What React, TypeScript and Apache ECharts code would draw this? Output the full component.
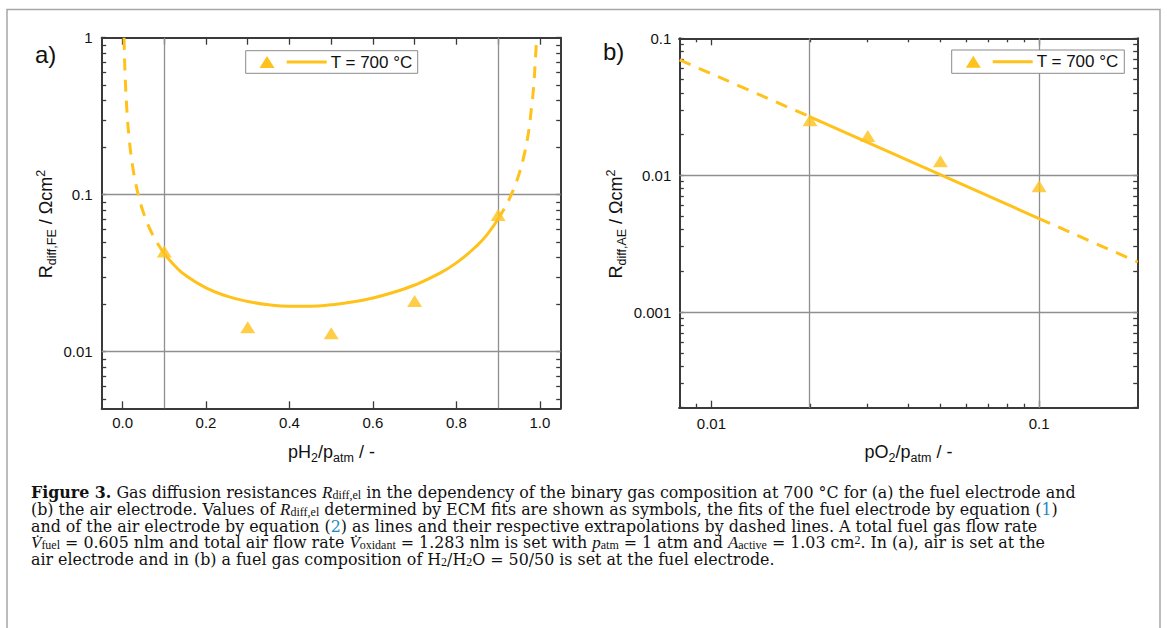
import React, { useEffect, useRef } from "react";
import * as echarts from "echarts";

// ---------------- data ----------------
// Panel a: fuel electrode, x = pH2/patm, y = R_diff,FE (Ωcm²)
const pH2Measured = [0.1, 0.3, 0.5, 0.7, 0.9];
const rFEMeasured = [0.0435, 0.0143, 0.0131, 0.021, 0.0743];

const fitFE_x = [0.1, 0.125, 0.15, 0.2, 0.25, 0.3, 0.35, 0.4, 0.45, 0.5, 0.55, 0.6, 0.65, 0.7, 0.75, 0.8, 0.85, 0.875, 0.9];
const fitFE_r = [0.042, 0.0353, 0.0308, 0.0255, 0.0226, 0.0209, 0.0199, 0.0195, 0.0195, 0.0199, 0.0207, 0.022, 0.0239, 0.0266, 0.0306, 0.0368, 0.0476, 0.0563, 0.07];

const extraFELeft_x = [0.00355, 0.004, 0.005, 0.006, 0.008, 0.01, 0.012, 0.015, 0.02, 0.025, 0.03, 0.04, 0.05, 0.06, 0.07, 0.08, 0.09, 0.1];
const extraFELeft_r = [1.0, 0.881, 0.706, 0.59, 0.444, 0.357, 0.298, 0.24, 0.1816, 0.1467, 0.1234, 0.0943, 0.0769, 0.0653, 0.057, 0.0509, 0.0461, 0.042];

const extraFERight_x = [0.9, 0.91, 0.92, 0.93, 0.94, 0.95, 0.96, 0.97, 0.975, 0.98, 0.985, 0.99, 0.9925];
const extraFERight_r = [0.07, 0.0775, 0.0865, 0.098, 0.1135, 0.135, 0.168, 0.225, 0.275, 0.36, 0.48, 0.78, 1.0];

// Panel b: air electrode, x = pO2/patm, y = R_diff,AE (Ωcm²)
const pO2Measured = [0.02, 0.03, 0.05, 0.1];
const rAEMeasured = [0.0252, 0.0193, 0.01265, 0.0083];

const fitAE_x = [0.02, 0.1];
const fitAE_r = [0.0267, 0.00482];
const extraAELeft_x = [0.008, 0.02];
const extraAELeft_r = [0.0695, 0.0267];
const extraAERight_x = [0.1, 0.2];
const extraAERight_r = [0.00482, 0.00232];

// Ticks and labels
const xTicksA = [0, 0.2, 0.4, 0.6, 0.8, 1.0];
const xTickLabelsA = ["0.0", "0.2", "0.4", "0.6", "0.8", "1.0"];
const xTopTicksA = [0, 0.1, 0.2, 0.3, 0.4, 0.5, 0.6, 0.7, 0.8, 0.9, 1.0];
const yTicksA = [0.01, 0.1, 1];
const yTickLabelsA = ["0.01", "0.1", "1"];
const yMinorA = [0.005, 0.006, 0.007, 0.008, 0.009, 0.01, 0.02, 0.03, 0.04, 0.05, 0.06, 0.07, 0.08, 0.09, 0.1, 0.2, 0.3, 0.4, 0.5, 0.6, 0.7, 0.8, 0.9, 1];
const gridXA = [0.1, 0.9];
const gridYA = [0.1, 0.01];

const xTicksB = [0.01, 0.1];
const xTickLabelsB = ["0.01", "0.1"];
const xMinorB = [0.009, 0.02, 0.03, 0.04, 0.05, 0.06, 0.07, 0.08, 0.09];
const yTicksB = [0.001, 0.01, 0.1];
const yTickLabelsB = ["0.001", "0.01", "0.1"];
const yMinorB = [0.0002, 0.0003, 0.0004, 0.0005, 0.0006, 0.0007, 0.0008, 0.0009, 0.001, 0.002, 0.003, 0.004, 0.005, 0.006, 0.007, 0.008, 0.009, 0.01, 0.02, 0.03, 0.04, 0.05, 0.06, 0.07, 0.08, 0.09, 0.1];
const gridXB = [0.02, 0.1];
const gridYB = [0.01, 0.001];

const legendLabel = "T = 700 °C";

// ---------------- styling ----------------
const GOLD = "#FFC21A";
const AXIS_COLOR = "#3a3a3a";
const GRID_COLOR = "#8f8f8f";
const SANS = "'Liberation Sans', Arial, Helvetica, sans-serif";
const SERIF = "'DejaVu Serif', 'Liberation Serif', serif";
const SERIF2 = "'Liberation Serif', 'Times New Roman', serif";
const lg = Math.log10;

const pickLabel = (vals: number[], labels: string[], logScale: boolean) => (v: number) => {
  let best = 0;
  let bd = Infinity;
  vals.forEach((t, i) => {
    const d = Math.abs((logScale ? lg(t) : t) - v);
    if (d < bd) {
      bd = d;
      best = i;
    }
  });
  return labels[best];
};

function mkAxis(
  gridIndex: number,
  position: string,
  min: number,
  max: number,
  ticks: number[],
  tickLen: number,
  label?: { vals: number[]; labels: string[]; margin: number; log: boolean }
) {
  return {
    type: "value",
    gridIndex,
    position,
    min,
    max,
    silent: true,
    axisLine: { show: true, onZero: false, lineStyle: { color: AXIS_COLOR, width: 2 } },
    splitLine: { show: false },
    axisTick: {
      show: true,
      inside: true,
      length: tickLen,
      customValues: ticks,
      lineStyle: { color: AXIS_COLOR, width: 1.3 },
    },
    axisLabel: label
      ? {
          show: true,
          customValues: label.log ? label.vals.map(lg) : label.vals,
          formatter: pickLabel(label.vals, label.labels, label.log),
          margin: label.margin,
          fontFamily: SANS,
          fontSize: 15,
          color: "#111",
        }
      : { show: false },
  };
}

const lineSeries = (xi: number, yi: number, data: number[][], dashed: boolean) => ({
  type: "line",
  xAxisIndex: xi,
  yAxisIndex: yi,
  data,
  symbol: "none",
  showSymbol: false,
  smooth: 0.5,
  silent: true,
  z: 3,
  lineStyle: { color: GOLD, width: 3, type: dashed ? [12, 9] : "solid", cap: "butt" },
});

const scatterSeries = (xi: number, yi: number, data: number[][], gx: number[], gy: number[]) => ({
  type: "scatter",
  xAxisIndex: xi,
  yAxisIndex: yi,
  data,
  symbol: "triangle",
  symbolSize: [15, 12],
  itemStyle: { color: GOLD },
  silent: true,
  z: 4,
  markLine: {
    silent: true,
    z: 1,
    symbol: ["none", "none"],
    label: { show: false },
    emphasis: { disabled: true },
    lineStyle: { color: GRID_COLOR, width: 1.3, type: "solid" },
    data: [...gx.map((v) => ({ xAxis: v })), ...gy.map((v) => ({ yAxis: v }))],
  },
});

const zipLin = (xs: number[], ys: number[]) => xs.map((x, i) => [x, lg(ys[i])]);
const zipLog = (xs: number[], ys: number[]) => xs.map((x, i) => [lg(x), lg(ys[i])]);

// rich text styles
const titleRich = {
  n: { fontSize: 18, fontFamily: SANS, lineHeight: 24, fill: "#111" },
  s: { fontSize: 12.5, fontFamily: SANS, lineHeight: 12, verticalAlign: "bottom", fill: "#111" },
  p: { fontSize: 12.5, fontFamily: SANS, lineHeight: 12, verticalAlign: "top", fill: "#111" },
};

const CAP_FS = 15.85;
const CAP_LH = 16.7;
const capRich = {
  t: { fontSize: CAP_FS, fontFamily: SERIF, lineHeight: CAP_LH, fill: "#111" },
  b: { fontSize: CAP_FS, fontFamily: SERIF, fontWeight: "bold", lineHeight: CAP_LH, fill: "#111" },
  i: { fontSize: 17, fontFamily: SERIF2, fontStyle: "italic", lineHeight: CAP_LH, fill: "#111" },
  l: { fontSize: CAP_FS, fontFamily: SERIF, lineHeight: CAP_LH, fill: "#1f8ac0" },
  s: { fontSize: 12, fontFamily: SERIF2, lineHeight: 6.5, verticalAlign: "bottom", fill: "#111" },
  p: { fontSize: 12, fontFamily: SERIF2, lineHeight: 9, verticalAlign: "top", fill: "#111" },
};

const captionLines = [
  "{b|Figure 3.}{t| Gas diffusion resistances }{i|R}{s|diff,el}{t| in the dependency of the binary gas composition at 700 °C for (a) the fuel electrode and}",
  "{t|(b) the air electrode. Values of }{i|R}{s|diff,el}{t| determined by ECM fits are shown as symbols, the fits of the fuel electrode by equation (}{l|1}{t|)}",
  "{t|and of the air electrode by equation (}{l|2}{t|) as lines and their respective extrapolations by dashed lines. A total fuel gas flow rate}",
  "{i|V\u0307}{s|fuel}{t| = 0.605 nlm and total air flow rate }{i|V\u0307}{s|oxidant}{t| = 1.283 nlm is set with }{i|p}{s|atm}{t| = 1 atm and }{i|A}{s|active}{t| = 1.03 cm}{p|2}{t|. In (a), air is set at the}",
  "{t|air electrode and in (b) a fuel gas composition of H}{s|2}{t|/H}{s|2}{t|O = 50/50 is set at the fuel electrode.}",
];

function legendGroup(x0: number, y0: number, x1: number, y1: number, triX: number, lx0: number, lx1: number, tx: number) {
  const cy = (y0 + y1) / 2;
  return [
    { type: "rect", shape: { x: x0, y: y0, width: x1 - x0, height: y1 - y0 }, style: { fill: "#fff", stroke: "#8a8a8a", lineWidth: 1 }, z: 10 },
    { type: "polygon", shape: { points: [[triX - 7.5, cy + 6], [triX + 7.5, cy + 6], [triX, cy - 6]] }, style: { fill: GOLD }, z: 11 },
    { type: "line", shape: { x1: lx0, y1: cy, x2: lx1, y2: cy }, style: { stroke: GOLD, lineWidth: 3 }, z: 11 },
    { type: "text", x: tx, y: cy, style: { text: legendLabel, fontFamily: SANS, fontSize: 17, fill: "#111", align: "left", verticalAlign: "middle" }, z: 11 },
  ];
}

export default function App() {
  const ref = useRef<HTMLDivElement>(null);

  useEffect(() => {
    if (!ref.current) return;
    const chart = echarts.init(ref.current, null, { renderer: "svg" });

    const option: any = {
      animation: false,
      backgroundColor: "#fff",
      grid: [
        { left: 101.7, top: 37.7, width: 459, height: 370.6 },
        { left: 679.3, top: 38.3, width: 458.4, height: 369.4 },
      ],
      xAxis: [
        mkAxis(0, "bottom", -0.05, 1.05, xTicksA, 7, { vals: xTicksA, labels: xTickLabelsA, margin: 7, log: false }),
        mkAxis(0, "top", -0.05, 1.05, xTopTicksA, 7),
        mkAxis(1, "bottom", -2.098, -0.699, xTicksB.map(lg), 7, { vals: xTicksB, labels: xTickLabelsB, margin: 8, log: true }),
        mkAxis(1, "bottom", -2.098, -0.699, xMinorB.map(lg), 4),
        mkAxis(1, "top", -2.098, -0.699, xTicksB.map(lg), 7),
        mkAxis(1, "top", -2.098, -0.699, xMinorB.map(lg), 4),
      ],
      yAxis: [
        mkAxis(0, "left", -2.3605, 0, yMinorA.map(lg), 4.5, { vals: yTicksA, labels: yTickLabelsA, margin: 9, log: true }),
        mkAxis(0, "right", -2.3605, 0, yMinorA.map(lg), 4.5),
        mkAxis(1, "left", -3.699, -1, yMinorB.map(lg), 4.5, { vals: yTicksB, labels: yTickLabelsB, margin: 8, log: true }),
        mkAxis(1, "right", -3.699, -1, yMinorB.map(lg), 4.5),
      ],
      series: [
        scatterSeries(0, 0, zipLin(pH2Measured, rFEMeasured), gridXA, gridYA.map(lg)),
        lineSeries(0, 0, zipLin(fitFE_x, fitFE_r), false),
        lineSeries(0, 0, zipLin(extraFELeft_x, extraFELeft_r), true),
        lineSeries(0, 0, zipLin(extraFERight_x, extraFERight_r), true),
        scatterSeries(2, 2, zipLog(pO2Measured, rAEMeasured), gridXB.map(lg), gridYB.map(lg)),
        lineSeries(2, 2, zipLog(fitAE_x, fitAE_r), false),
        lineSeries(2, 2, zipLog(extraAELeft_x, extraAELeft_r), true),
        lineSeries(2, 2, zipLog(extraAERight_x, extraAERight_r), true),
      ],
      graphic: [
        {
          type: "polyline",
          shape: { points: [[7, 628], [7, 9.5], [1160, 9.5], [1160, 628]] },
          style: { stroke: "#a6a6a6", lineWidth: 1.5, fill: null },
          silent: true,
        },
        { type: "text", x: 35, y: 54, style: { text: "a)", fontFamily: SANS, fontSize: 24, fill: "#111", align: "left", verticalAlign: "middle" } },
        { type: "text", x: 603, y: 51, style: { text: "b)", fontFamily: SANS, fontSize: 24, fill: "#111", align: "left", verticalAlign: "middle" } },
        {
          type: "text",
          x: 46,
          y: 224,
          rotation: Math.PI / 2,
          style: { text: "{n|R}{s|diff,FE}{n| / Ωcm}{p|2}", rich: titleRich, align: "center", verticalAlign: "middle", fontFamily: SANS, fontSize: 18 },
        },
        {
          type: "text",
          x: 616,
          y: 224,
          rotation: Math.PI / 2,
          style: { text: "{n|R}{s|diff,AE}{n| / Ωcm}{p|2}", rich: titleRich, align: "center", verticalAlign: "middle", fontFamily: SANS, fontSize: 18 },
        },
        {
          type: "text",
          x: 331.5,
          y: 452,
          style: { text: "{n|pH}{s|2}{n|/p}{s|atm}{n| / -}", rich: titleRich, align: "center", verticalAlign: "middle", fontFamily: SANS, fontSize: 18 },
        },
        {
          type: "text",
          x: 908.5,
          y: 452,
          style: { text: "{n|pO}{s|2}{n|/p}{s|atm}{n| / -}", rich: titleRich, align: "center", verticalAlign: "middle", fontFamily: SANS, fontSize: 18 },
        },
        ...legendGroup(245.7, 50.7, 417.7, 73.3, 267, 286.7, 326.7, 330.7),
        ...legendGroup(951.7, 50, 1124.3, 73.3, 973.3, 992.7, 1032.7, 1036.7),
        {
          type: "text",
          x: 31,
          y: 484.4,
          style: {
            text: captionLines.join("\n"),
            rich: capRich,
            fontFamily: SERIF,
            fontSize: CAP_FS,
            lineHeight: CAP_LH,
            fill: "#111",
            align: "left",
            verticalAlign: "top",
          },
        },
      ],
    };

    chart.setOption(option);
    return () => chart.dispose();
  }, []);

  return <div ref={ref} style={{ position: "fixed", left: 0, top: 0, width: 1167, height: 628, background: "#fff" }} />;
}
